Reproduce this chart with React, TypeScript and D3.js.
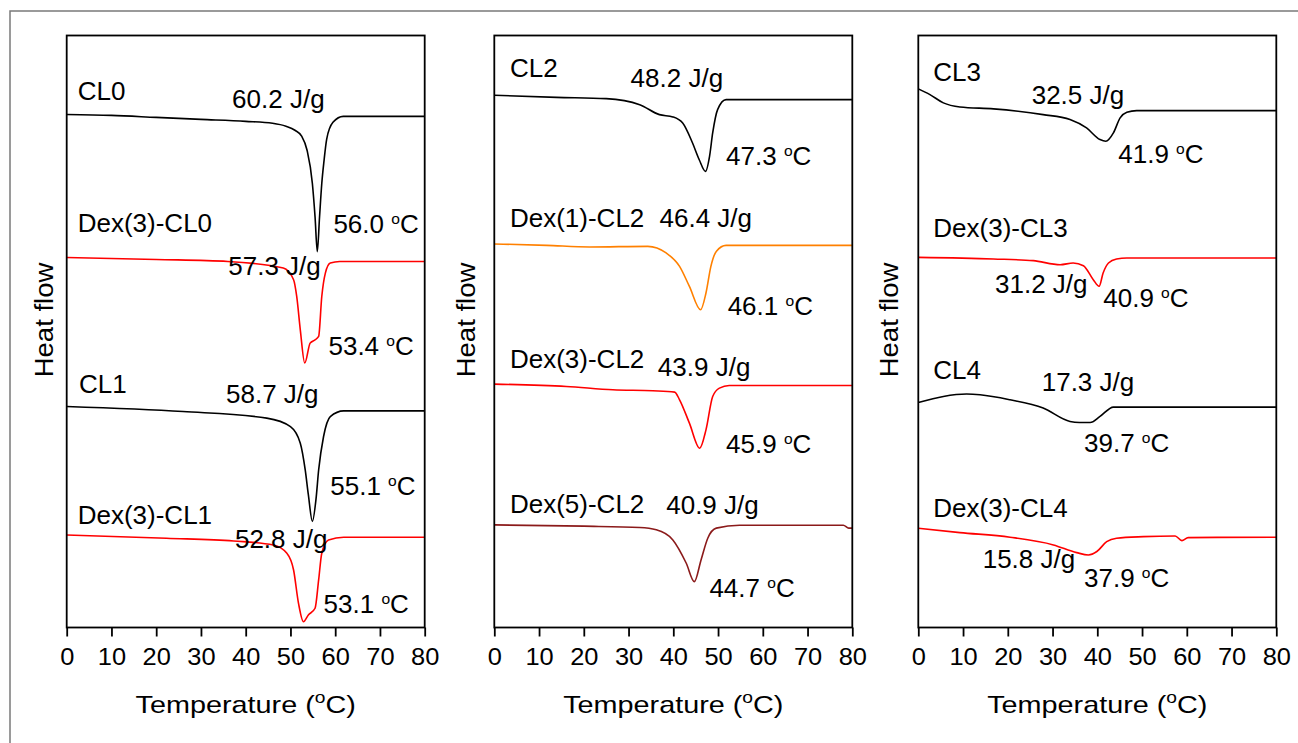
import React, { useEffect, useRef } from "react";
import * as d3 from "d3";

// x ticks shared by the three panels
const tempTicks = [0, 10, 20, 30, 40, 50, 60, 70, 80];

// DSC traces: [temperature (°C), heat flow relative to the trace baseline (a.u.)]
const CL0 = [[0, 0.2], [10, 0.1], [20, -0.1], [30, -0.3], [40, -0.5], [46, -0.7], [49, -1.0], [51, -1.4], [52.5, -2.0], [53.7, -3.4], [54.9, -6.8], [55.5, -10.2], [56.0, -13.7], [56.5, -10.2], [57.0, -6.8], [57.5, -4.5], [58.1, -2.3], [59.5, -0.6], [61.8, 0], [80, 0]];
const Dex3CL0 = [[0, 0.4], [20, 0.2], [36, 0], [48.4, -0.67], [50.7, -1.86], [51.4, -3.55], [52.2, -6.93], [53.2, -10.3], [54.4, -8.28], [55.5, -7.94], [56.3, -7.6], [57.0, -3.55], [57.8, -1.18], [58.9, -0.16], [61, 0], [80, 0]];
const CL1 = [[0, 0.44], [26, -0.07], [44.7, -0.74], [50, -1.6], [52.2, -3.28], [53.3, -5.99], [54.0, -8.5], [54.9, -11.2], [55.7, -9.0], [56.3, -6.0], [57.4, -2.6], [58.9, -0.58], [61.9, 0], [80, 0]];
const Dex3CL1 = [[0, 0.23], [22.3, -0.1], [37.3, -0.38], [46.2, -0.78], [49.2, -1.62], [50.7, -3.32], [51.8, -6.7], [52.9, -8.56], [54.0, -7.88], [55.5, -7.2], [56.3, -4.33], [57.0, -1.62], [58.5, -0.27], [61.9, 0], [80, 0]];

const CL2 = [[0, 0.44], [13.9, 0.23], [25, 0.1], [32.5, -0.51], [36.9, -1.52], [39.9, -1.75], [42.1, -2.37], [44.3, -4.4], [45.8, -6.09], [47.2, -7.27], [48.1, -5.75], [48.8, -3.38], [49.9, -1.01], [51.8, 0], [80, 0]];
const Dex1CL2 = [[0, 0.14], [11.7, 0], [21.3, -0.16], [34.3, -0.1], [38.4, -0.77], [41.4, -2.13], [43.6, -4.16], [46.1, -6.52], [47.3, -4.83], [48.4, -2.13], [49.6, -0.61], [51.8, 0], [80, 0]];
const Dex3CL2 = [[0, 0.14], [16.1, -0.1], [26.5, -0.44], [35.4, -0.54], [40.3, -0.67], [41.4, -1.45], [43.6, -3.82], [45.9, -6.36], [47.3, -4.5], [48.8, -1.12], [50.3, -0.27], [52.5, 0], [80, 0]];
const Dex5CL2 = [[0, 0.03], [20, -0.1], [32.5, -0.24], [36.2, -0.47], [39.9, -1.49], [42.9, -3.86], [44.7, -5.72], [46.2, -3.52], [47.7, -1.32], [49.6, -0.3], [54.8, 0], [78, 0], [79.2, -0.3], [80, -0.3]];

const CL3 = [[0, 2.2], [2.6, 1.62], [5.6, 0.78], [9.3, 0.37], [16.8, 0.17], [27.9, -0.41], [33.9, -0.91], [37.6, -1.76], [40.6, -2.94], [41.9, -3.11], [43.6, -2.26], [45.1, -0.74], [46.6, -0.17], [48.8, 0], [80, 0]];
const Dex3CL3 = [[0, 0.06], [16.8, -0.1], [25.7, -0.27], [31.7, -0.68], [34.6, -0.51], [36.9, -0.78], [39.1, -2.2], [40.4, -2.87], [41.3, -1.52], [42.5, -0.51], [44.3, -0.1], [46.6, 0], [80, 0]];
const CL4 = [[0, 0.47], [5.6, 1.08], [10.8, 1.32], [13.8, 1.25], [20.5, 0.74], [27.9, -0.1], [33.9, -1.46], [36, -1.56], [38.4, -1.56], [40.6, -0.95], [43.6, 0], [80, 0]];
const Dex3CL4 = [[0, 0.91], [9.3, 0.47], [20.5, 0], [30.2, -0.78], [35.4, -1.56], [38.0, -1.8], [39.9, -1.45], [42.1, -0.45], [44.3, -0.1], [50.3, 0.06], [57.4, 0.13], [58.9, -0.35], [60.3, -0.04], [80, 0]];

// baseline level of each trace (a.u., stacking offset)
const offsets1 = [51.8, 37.1, 21.96, 9.15];
const offsets2 = [53.5, 38.73, 24.53, 10.37];
const offsets3 = [52.39, 37.45, 22.34, 9.15];

// annotations: [text, temperature, heat flow level]
const labels1 = [
  ["CL0", 2.46, 53.46], ["60.2 J/g", 36.96, 52.62], ["Dex(3)-CL0", 2.46, 40.11], ["56.0 oC", 59.6, 39.98],
  ["57.3 J/g", 36.1, 35.72], ["53.4 oC", 58.5, 27.62], ["CL1", 2.75, 23.74], ["58.7 J/g", 35.6, 22.72],
  ["55.1 oC", 58.9, 13.43], ["Dex(3)-CL1", 2.46, 10.49], ["52.8 J/g", 37.6, 8.03], ["53.1 oC", 57.4, 1.44],
];
const labels2 = [
  ["CL2", 3.5, 55.76], ["48.2 J/g", 30.46, 54.81], ["47.3 oC", 51.79, 46.87], ["Dex(1)-CL2", 3.5, 40.62],
  ["46.4 J/g", 36.92, 40.62], ["46.1 oC", 52.14, 31.67], ["Dex(3)-CL2", 3.5, 26.27], ["43.9 J/g", 36.55, 25.49],
  ["45.9 oC", 51.79, 17.65], ["Dex(5)-CL2", 3.5, 11.57], ["40.9 J/g", 38.42, 11.5], ["44.7 oC", 48.07, 3.06],
];
const labels3 = [
  ["CL3", 3.35, 55.39], ["32.5 J/g", 25.34, 53.06], ["41.9 oC", 44.69, 47.05], ["Dex(3)-CL3", 3.35, 39.55],
  ["31.2 J/g", 17.14, 33.87], ["40.9 oC", 41.34, 32.45], ["CL4", 3.35, 25.15], ["17.3 J/g", 27.58, 23.97],
  ["39.7 oC", 37.03, 17.82], ["Dex(3)-CL4", 3.35, 11.17], ["15.8 J/g", 14.39, 6.0], ["37.9 oC", 37.03, 4.07],
];

const BLACK = "#000";
const RED = "#ff0000";
const ORANGE = "#ff8000";
const MAROON = "#8b1a1a";

const panels = [
  { left: 66.7, curves: [CL0, Dex3CL0, CL1, Dex3CL1], offsets: offsets1, colors: [BLACK, RED, BLACK, RED], labels: labels1, yLabelX: 53 },
  { left: 494.3, curves: [CL2, Dex1CL2, Dex3CL2, Dex5CL2], offsets: offsets2, colors: [BLACK, ORANGE, RED, MAROON], labels: labels2, yLabelX: 475 },
  { left: 918.3, curves: [CL3, Dex3CL3, CL4, Dex3CL4], offsets: offsets3, colors: [BLACK, RED, BLACK, RED], labels: labels3, yLabelX: 898 },
];

const FONT = "'Liberation Sans', Arial, sans-serif";

export default function App() {
  const ref = useRef<SVGSVGElement>(null);

  useEffect(() => {
    const svg = d3.select(ref.current);
    svg.selectAll("*").remove();

    const width = 1298, height = 743;
    const plotW = 358, top = 35.5, bottom = 627.5;

    // outer figure frame
    svg.append("path")
      .attr("d", `M10,${height} V11 H${width}`)
      .attr("fill", "none")
      .attr("stroke", "#7a7a7a")
      .attr("stroke-width", 1.5);

    panels.forEach(p => {
      const x = d3.scaleLinear().domain([0, 80]).range([p.left, p.left + plotW]);
      const y = d3.scaleLinear().domain([0, 60]).range([bottom, top]);
      const g = svg.append("g");

      // x axis
      const xAxis = d3.axisBottom(x)
        .tickValues(tempTicks)
        .tickSize(9)
        .tickSizeOuter(0)
        .tickPadding(11);
      const ax = g.append("g")
        .attr("transform", `translate(0,${bottom})`)
        .call(xAxis);
      ax.select(".domain").remove();
      ax.selectAll("line").attr("stroke", "#000").attr("stroke-width", 1.8);
      ax.selectAll("text")
        .attr("font-family", FONT)
        .attr("font-size", 24)
        .attr("transform", "scale(1.06,1)")
        .attr("fill", "#000");

      // traces
      const line = d3.line<number[]>().curve(d3.curveMonotoneX);
      p.curves.forEach((c, i) => {
        g.append("path")
          .datum(c)
          .attr("fill", "none")
          .attr("stroke", p.colors[i])
          .attr("stroke-width", 1.6)
          .attr("d", line.x(d => x(d[0])).y(d => y(p.offsets[i] + d[1])));
      });

      // plot frame
      g.append("rect")
        .attr("x", x(0))
        .attr("y", y(60))
        .attr("width", x(80) - x(0))
        .attr("height", y(0) - y(60))
        .attr("fill", "none")
        .attr("stroke", "#000")
        .attr("stroke-width", 1.8);

      // annotations (glyphs slightly wider than plain Arial in the source)
      p.labels.forEach(l => {
        const txt = l[0] as string;
        const t = g.append("text")
          .attr("transform", `translate(${x(l[1] as number)},${y(l[2] as number)}) scale(1.04,1)`)
          .attr("font-family", FONT)
          .attr("font-size", 25)
          .attr("fill", "#000");
        if (txt.endsWith(" oC")) {
          t.append("tspan").text(txt.replace(" oC", " "));
          t.append("tspan").text("o").attr("font-size", 15).attr("dy", -9);
          t.append("tspan").text("C").attr("dy", 9);
        } else {
          t.text(txt);
        }
      });

      // axis titles
      const xt = g.append("text")
        .attr("transform", `translate(${(x(0) + x(80)) / 2},713) scale(1.2,1)`)
        .attr("text-anchor", "middle")
        .attr("font-family", FONT)
        .attr("font-size", 24)
        .attr("fill", "#000");
      xt.append("tspan").text("Temperature (");
      xt.append("tspan").text("o").attr("font-size", 16).attr("dy", -10);
      xt.append("tspan").text("C)").attr("dy", 10);

      g.append("text")
        .attr("transform", `translate(${p.yLabelX},320) rotate(-90) scale(1.1,1)`)
        .attr("text-anchor", "middle")
        .attr("font-family", FONT)
        .attr("font-size", 25)
        .attr("fill", "#000")
        .text("Heat flow");
    });
  }, []);

  return (
    <div style={{ position: "absolute", left: 0, top: 0, width: 1298, height: 743, background: "#fff" }}>
      <svg ref={ref} width={1298} height={743} />
    </div>
  );
}
